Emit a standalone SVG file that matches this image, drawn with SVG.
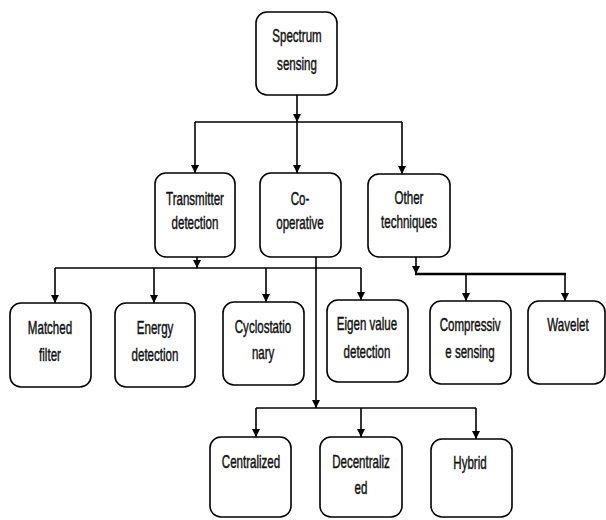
<svg xmlns="http://www.w3.org/2000/svg" width="606" height="520" viewBox="0 0 606 520">
<defs>
<marker id="ah" viewBox="0 0 10 10" refX="10" refY="5" markerWidth="8" markerHeight="9" markerUnits="userSpaceOnUse" orient="auto">
<path d="M0,0 L10,5 L0,10 z" fill="#000"/>
</marker>
<style>
.box{fill:#fff;stroke:#000;stroke-width:1.6}
.t{font-family:"Liberation Sans",Arial,sans-serif;font-size:17.5px;fill:#111;stroke:#111;stroke-width:0.45;text-anchor:middle;transform-box:fill-box;transform-origin:center;transform:scaleX(0.66)}
.c{fill:none;stroke:#000;stroke-width:1.6}
.a{fill:none;stroke:#000;stroke-width:1.6;marker-end:url(#ah)}
</style>
</defs>
<rect width="606" height="520" fill="#fff"/>
<g id="connectors">
<line class="a" x1="297" y1="95" x2="297" y2="122"/>
<line class="c" x1="195" y1="122" x2="402" y2="122"/>
<line class="a" x1="195" y1="122" x2="195" y2="173"/>
<line class="a" x1="297" y1="122" x2="297" y2="173"/>
<line class="a" x1="402" y1="122" x2="402" y2="174"/>
<line class="a" x1="197" y1="257" x2="197" y2="268"/>
<line class="c" x1="55" y1="268" x2="361" y2="268"/>
<line class="a" x1="55" y1="268" x2="55" y2="303"/>
<line class="a" x1="154" y1="268" x2="154" y2="303"/>
<line class="a" x1="266" y1="268" x2="266" y2="302"/>
<line class="a" x1="361" y1="268" x2="361" y2="300"/>
<line class="a" x1="316" y1="257" x2="316" y2="408"/>
<line class="c" x1="256" y1="408" x2="476" y2="408"/>
<line class="a" x1="256" y1="408" x2="256" y2="437"/>
<line class="a" x1="361" y1="408" x2="361" y2="437"/>
<line class="a" x1="476" y1="408" x2="476" y2="439"/>
<line class="a" x1="416" y1="257" x2="416" y2="274"/>
<line class="c" x1="415" y1="274" x2="566" y2="274" style="stroke-width:2.6"/>
<line class="a" x1="466" y1="274" x2="466" y2="301"/>
<line class="a" x1="565" y1="274" x2="565" y2="301"/>
</g>
<g id="spectrum-sensing">
<rect class="box" x="256" y="12" width="81" height="83" rx="11"/>
<text class="t" x="297" y="42">Spectrum</text>
<text class="t" x="297" y="70">sensing</text>
</g>
<g id="transmitter-detection">
<rect class="box" x="155" y="173" width="80" height="84" rx="11"/>
<text class="t" x="195" y="205">Transmitter</text>
<text class="t" x="195" y="229">detection</text>
</g>
<g id="co-operative">
<rect class="box" x="260" y="173" width="81" height="84" rx="11"/>
<text class="t" x="300" y="205">Co-</text>
<text class="t" x="300" y="229">operative</text>
</g>
<g id="other-techniques">
<rect class="box" x="368" y="174" width="82" height="83" rx="11"/>
<text class="t" x="409" y="204">Other</text>
<text class="t" x="409" y="228">techniques</text>
</g>
<g id="matched-filter">
<rect class="box" x="10" y="303" width="81" height="84" rx="11"/>
<text class="t" x="50" y="334">Matched</text>
<text class="t" x="50" y="361">filter</text>
</g>
<g id="energy-detection">
<rect class="box" x="115" y="303" width="80" height="84" rx="11"/>
<text class="t" x="155" y="334">Energy</text>
<text class="t" x="155" y="361">detection</text>
</g>
<g id="cyclostationary">
<rect class="box" x="223" y="302" width="81" height="83" rx="11"/>
<text class="t" x="263" y="333">Cyclostatio</text>
<text class="t" x="263" y="359">nary</text>
</g>
<g id="eigen-value-detection">
<rect class="box" x="327" y="300" width="81" height="82" rx="11"/>
<text class="t" x="367" y="330">Eigen value</text>
<text class="t" x="367" y="358">detection</text>
</g>
<g id="compressive-sensing">
<rect class="box" x="430" y="301" width="81" height="83" rx="11"/>
<text class="t" x="470" y="331">Compressiv</text>
<text class="t" x="470" y="358">e sensing</text>
</g>
<g id="wavelet">
<rect class="box" x="528" y="301" width="77" height="83" rx="11"/>
<text class="t" x="568" y="331">Wavelet</text>
</g>
<g id="centralized">
<rect class="box" x="210" y="437" width="81" height="80" rx="11"/>
<text class="t" x="251" y="468">Centralized</text>
</g>
<g id="decentralized">
<rect class="box" x="320" y="437" width="82" height="80" rx="11"/>
<text class="t" x="361" y="468">Decentraliz</text>
<text class="t" x="361" y="494">ed</text>
</g>
<g id="hybrid">
<rect class="box" x="431" y="439" width="81" height="78" rx="11"/>
<text class="t" x="470" y="469">Hybrid</text>
</g>
</svg>
